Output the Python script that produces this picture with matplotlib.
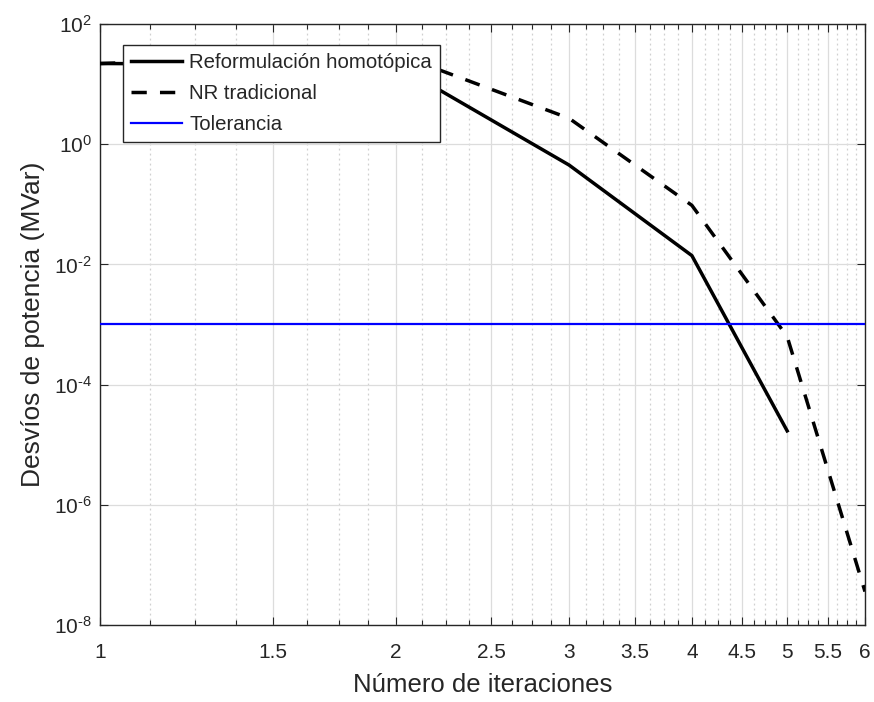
import numpy as np
import matplotlib
matplotlib.use("Agg")
import matplotlib.pyplot as plt
from matplotlib.ticker import FixedLocator, FixedFormatter, NullFormatter

plt.rcParams['font.family'] = ['Liberation Sans', 'DejaVu Sans']
plt.rcParams['mathtext.fontset'] = 'custom'
plt.rcParams['mathtext.rm'] = 'Liberation Sans'
plt.rcParams['mathtext.it'] = 'Liberation Sans:italic'
plt.rcParams['mathtext.bf'] = 'Liberation Sans:bold'
plt.rcParams['mathtext.default'] = 'regular'

# Data
iter_homot = [1, 2, 3, 4, 5]
dev_homot = [22, 21, 0.45, 0.014, 1.7e-5]
iter_nr = [1, 2, 3, 4, 5, 6]
dev_nr = [22, 32, 2.7, 0.096, 6.3e-4, 3.6e-8]
tolerance = 1e-3

x_ticks = [1, 1.5, 2, 2.5, 3, 3.5, 4, 4.5, 5, 5.5, 6]
x_ticklabels = ["1", "1.5", "2", "2.5", "3", "3.5", "4", "4.5", "5", "5.5", "6"]
y_ticks = [1e-8, 1e-6, 1e-4, 1e-2, 1e0, 1e2]
y_ticklabels = [r"$10^{\text{-8}}$", r"$10^{\text{-6}}$", r"$10^{\text{-4}}$",
                r"$10^{\text{-2}}$", r"$10^{0}$", r"$10^{2}$"]

labels = ["Reformulación homotópica", "NR tradicional", "Tolerancia"]

W, H = 874, 702
fig = plt.figure(figsize=(W / 100, H / 100), dpi=100)
ax = fig.add_axes([100 / W, 1 - 625 / H, 765 / W, 601 / H])

dark = (0.15, 0.15, 0.15)

ax.plot(iter_homot, dev_homot, color='black', lw=2.5, label=labels[0], zorder=3)
ax.plot(iter_nr, dev_nr, color='black', lw=2.5, ls=(0, (4.4, 3.8)), label=labels[1], zorder=3)
ax.plot([x_ticks[0], x_ticks[-1]], [tolerance, tolerance], color='#0000ff', lw=1.6,
        label=labels[2], zorder=3)

ax.set_xscale('log')
ax.set_yscale('log')
ax.set_xlim(1, 6)
ax.set_ylim(1e-8, 1e2)

minor_x = [v for v in np.arange(1, 6.0001, 0.125) if not any(abs(v - m) < 1e-9 for m in x_ticks)]
ax.xaxis.set_major_locator(FixedLocator(x_ticks))
ax.xaxis.set_major_formatter(FixedFormatter(x_ticklabels))
ax.xaxis.set_minor_locator(FixedLocator(minor_x))
ax.xaxis.set_minor_formatter(NullFormatter())
ax.yaxis.set_major_locator(FixedLocator(y_ticks))
ax.yaxis.set_major_formatter(FixedFormatter(y_ticklabels))
ax.yaxis.set_minor_locator(FixedLocator([]))

ax.tick_params(which='both', direction='in', top=True, right=True, colors=dark,
               labelsize=15, labelcolor=dark)
ax.tick_params(which='major', length=6, width=0.8)
ax.tick_params(which='minor', length=3.5, width=0.8)
ax.tick_params(axis='x', which='major', pad=13)
ax.tick_params(axis='y', which='major', pad=6)

ax.grid(which='major', color='#dcdcdc', lw=0.9, ls='-', zorder=0)
ax.grid(which='minor', axis='x', color='#d0d0d0', lw=0.9, ls=(0, (1.5, 2.5)), zorder=0)
ax.set_axisbelow(True)

for s in ax.spines.values():
    s.set_color(dark)
    s.set_linewidth(1.0)

ax.set_xlabel("Número de iteraciones", fontsize=18.5, color=dark, labelpad=8)
ax.set_ylabel("Desvíos de potencia (MVar)", fontsize=19, color=dark, labelpad=6)

leg = ax.legend(loc='upper left', bbox_to_anchor=(0.030, 0.965), fontsize=14.7,
                frameon=True, fancybox=False, framealpha=1, edgecolor=dark,
                handlelength=2.5, handletextpad=0.35, borderpad=0.4,
                labelspacing=0.58, borderaxespad=0)
leg.get_frame().set_linewidth(1.0)
for t in leg.get_texts():
    t.set_color(dark)

fig.savefig("out.png", dpi=100, facecolor='white')
